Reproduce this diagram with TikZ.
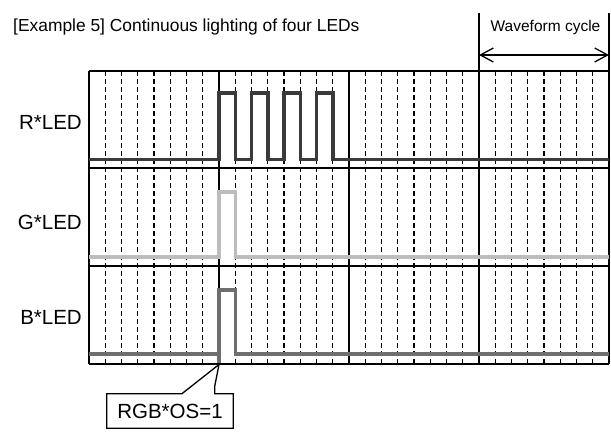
\documentclass[tikz,border=0pt]{standalone}
\usepackage{fontspec}
\setmainfont{Liberation Sans}
\usetikzlibrary{arrows.meta,calc}
\definecolor{rcol}{HTML}{3A3A3A}
\definecolor{gcol}{HTML}{BDBDBD}
\definecolor{bcol}{HTML}{6E6E6E}
\begin{document}
\begin{tikzpicture}[x=1pt,y=-1pt,
  gridsolid/.style={line width=1.6pt,black},
  griddash/.style={line width=1.1pt,black,dash pattern=on 5pt off 3pt},
  sig/.style={line width=3.5pt,line join=miter,line cap=butt},
  lab/.style={font=\fontsize{20.5pt}{24pt}\selectfont,inner sep=0pt},
  pulsesarrow/.style={line width=1.3pt,{Straight Barb[length=13pt,width=14pt,line width=1.3pt]}-{Straight Barb[length=13pt,width=14pt,line width=1.3pt]}}
]
\useasboundingbox[fill=white] (0,0) rectangle (611,432);
\def\dx{16.25}
% dashed grid lines
\foreach \i in {1,...,31}{
  \pgfmathtruncatemacro{\m}{mod(\i,8)}
  \ifnum\m=0\relax\else
    \draw[griddash] ({89+\i*\dx},71) -- ({89+\i*\dx},364);
  \fi
}
% solid grid lines
\foreach \i in {0,8,16,24,32}{
  \draw[gridsolid] ({89+\i*\dx},71) -- ({89+\i*\dx},364);
}
\foreach \yy in {71,168,266,364}{
  \draw[gridsolid] (89,\yy) -- (609,\yy);
}
% waveform cycle
\coordinate (wl) at (479,13);
\coordinate (wr) at (609,13);
\draw[gridsolid] (wl) -- (479,71);
\draw[gridsolid] (wr) -- (609,71);
\coordinate (al) at (479,55);
\coordinate (ar) at (609,55);
\draw[pulsesarrow] (al) -- (ar);
\node[font=\fontsize{15.5pt}{18pt}\selectfont,anchor=base,inner sep=0pt] (wave) at (545.5,31) {Waveform cycle};
% title
\node[font=\fontsize{17.4pt}{20pt}\selectfont,anchor=base west,inner sep=0pt] (title) at (13,31) {[Example 5] Continuous lighting of four LEDs};
% labels
\node[lab,anchor=east] (rlab) at (82,122) {R*LED};
\node[lab,anchor=east] (glab) at (82,222) {G*LED};
\node[lab,anchor=east] (blab) at (82,317) {B*LED};
% signals
\draw[sig,rcol] (89,159.5) -- (219,159.5) -- (219,93)
  -- ({89+9*\dx},93) -- ({89+9*\dx},159.5) -- ({89+10*\dx},159.5) -- ({89+10*\dx},93)
  -- ({89+11*\dx},93) -- ({89+11*\dx},159.5) -- ({89+12*\dx},159.5) -- ({89+12*\dx},93)
  -- ({89+13*\dx},93) -- ({89+13*\dx},159.5) -- ({89+14*\dx},159.5) -- ({89+14*\dx},93)
  -- ({89+15*\dx},93) -- ({89+15*\dx},159.5) -- (609,159.5);
\draw[sig,gcol] (89,257) -- (219,257) -- (219,192) -- ({89+9*\dx},192) -- ({89+9*\dx},257) -- (609,257);
\draw[sig,bcol] (89,354) -- (219,354);
\draw[sig,bcol] (219,362.5) -- (219,290) -- ({89+9*\dx},290) -- ({89+9*\dx},354) -- (609,354);
% callout
\coordinate (apex) at (219,364.5);
\node[lab,minimum width=126pt,minimum height=34pt,anchor=center] (osbox) at (170,411) {RGB*OS=1};
\coordinate (c1) at ($(osbox.north west)+(75,0)$);
\coordinate (c2) at ($(osbox.north west)+(108,0)$);
\coordinate (c3) at ($(osbox.north west)+(108,-8)$);
\draw[line width=1.3pt,line join=miter] (c1) -- (apex) -- (c3) -- (c2) -- (osbox.north east) -- (osbox.south east) -- (osbox.south west) -- (osbox.north west) -- cycle;
\end{tikzpicture}
\end{document}
